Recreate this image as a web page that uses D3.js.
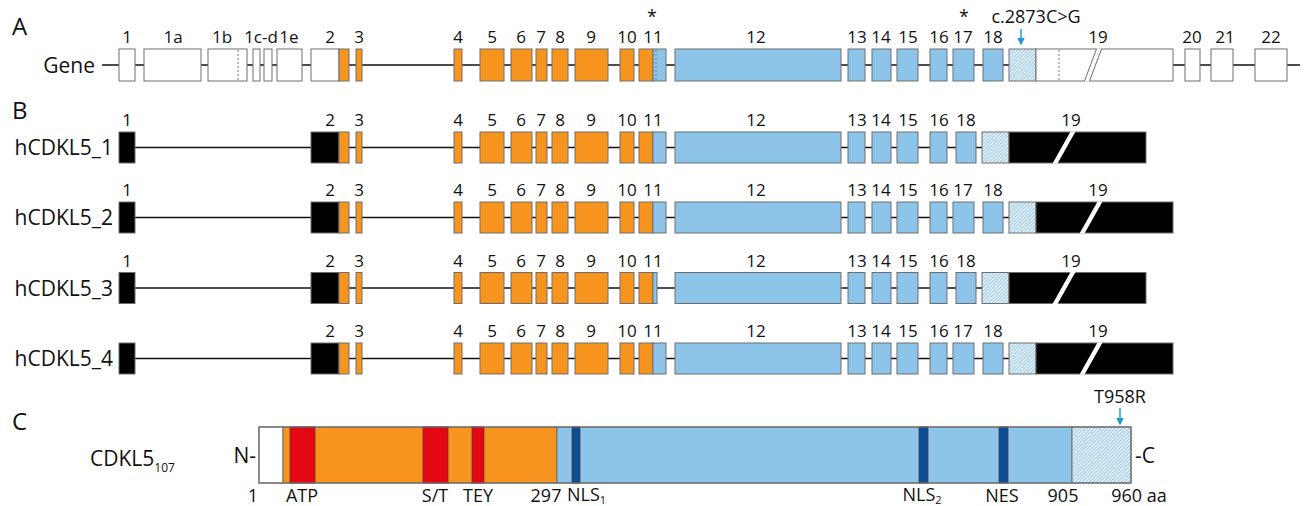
<!DOCTYPE html>
<html>
<head>
<meta charset="utf-8">
<script src="https://cdn.jsdelivr.net/npm/d3@7"></script>
<style>
body{margin:0;background:#fff}
svg{display:block;font-family:"Open Sans","Noto Sans",sans-serif}
</style>
</head>
<body>
<svg id="chart" width="1306" height="506"></svg>
<script>
// schematic exon layout (arbitrary units along the gene track)
const geneIds   = ["1","1a","1b","1c","1d","1e","2","3","4","5","6","7","8","9","10","11","12","13","14","15","16","17","18","19","20","21","22"]
const geneStart = [19,44,108,153,164,177,211,256,354,380,411,436,452,475,520,539,575,748,772,797,830,853,883,909,1085,1111,1155]
const geneEnd   = [35,101,147,160,172,202,249,262,362,404,432,447,468,508,534,566,741,765,791,818,847,874,903,1073,1100,1133,1187]
const geneDashed = [138, 556, 959]          // alternative splice sites inside exons 1b, 11, 19
const geneLabels  = ["1","1a","1b","1c-d","1e","2","3","4","5","6","7","8","9","10","11","12","13","14","15","16","17","18","19","20","21","22"]
const geneLabelAt = [27,73,122,161,189,230,259,358,392,421,441,460,491,527,553,656,757,781,808,839,863,893,998,1092,1125,1171]
const starredAt = [552, 864]
const mutation = {text:"c.2873C>G", at:921, textAt:936}

// coding regions: utr | kinase (orange) | C-term (blue) | alt C-term (hatched) | utr
const segBounds = [239, 553, 905, 936]
const segKinds  = ["utr","kinase","cterm","alt","utr"]

// transcripts
const isoNames   = ["hCDKL5_1","hCDKL5_2","hCDKL5_3","hCDKL5_4"]
const isoCore    = ["1","2","3","4","5","6","7","8","9","10","11","12","13","14","15","16","17","18","19"]
const isoMissing = [["17"],[],["17"],[]]
const iso11End   = [566,566,557,566]
const isoLabel1  = [true,true,true,false]

// protein CDKL5_107
const protName = "CDKL5", protSub = "107"
const protRegionKind  = ["nterm","kinase","cterm","alt"]
const protRegionStart = [159,183,457,972]
const protRegionEnd   = [183,457,972,1031]
const protMotifs      = ["ATP","S/T","TEY","NLS1","NLS2","NES"]
const protMotifKind   = ["red","red","red","nls","nls","nls"]
const protMotifStart  = [190,323,372,472,819,899]
const protMotifEnd    = [215,348,384,480,828,908]
const protTicks   = ["1","ATP","S/T","TEY","297","NLS|1","NLS|2","NES","905","960 aa"]
const protTickAt  = [153,202,335,378,446,467,822,902,963,1039]
const protMutation = {text:"T958R", at:1020}

const x = d3.scaleLinear().domain([0, 1200]).range([100, 1300])
const svg = d3.select("#chart")
const fills = {kinase:"#f7941d", cterm:"#8dc4ea", alt:"url(#hatch)", nterm:"#fff", red:"#e30613", nls:"#0b4f95"}
const edge = "#6e6e6e"
const arrowBlue = "#1f9ad6"

const defs = svg.append("defs")
const pat = defs.append("pattern").attr("id","hatch").attr("patternUnits","userSpaceOnUse")
    .attr("width",3.5).attr("height",3.5)
pat.append("rect").attr("width",3.5).attr("height",3.5).attr("fill","#f4f9fd")
pat.append("path").attr("d","M-1,1 l2,-2 M0,3.5 l3.5,-3.5 M2.5,4.5 l2,-2").attr("stroke","#7db9e3").attr("stroke-width",0.9)
defs.append("marker").attr("id","arr").attr("viewBox","0 0 10 10").attr("refX",8).attr("refY",5)
    .attr("markerWidth",5).attr("markerHeight",5).attr("orient","auto")
  .append("path").attr("d","M0,0 L10,5 L0,10 z").attr("fill",arrowBlue)

function pieces(s, e){
    const out = []
    for(let k=0; k<segKinds.length; k++){
        const lo = k==0 ? -Infinity : segBounds[k-1]
        const hi = k==segKinds.length-1 ? Infinity : segBounds[k]
        const ps = Math.max(s, lo), pe = Math.min(e, hi)
        if(pe > ps) out.push({s:ps, e:pe, kind:segKinds[k]})
    }
    return out
}

// exons carry gene coordinates (s, e) and a leftward shift for the compact transcript layout
function drawTrack(g, exons, cy, half, utrFill, from, to){
    g.append("line").attr("x1",x(from)).attr("x2",x(to)).attr("y1",cy).attr("y2",cy)
        .attr("stroke","#111").attr("stroke-width",1.5)
    for(const ex of exons){
        const sh = ex.shift || 0
        for(const p of pieces(ex.s, ex.e)){
            g.append("rect").attr("x",x(p.s-sh)).attr("y",cy-half)
                .attr("width",x(p.e)-x(p.s)).attr("height",half*2)
                .attr("fill", p.kind=="utr" ? utrFill : fills[p.kind])
                .attr("stroke",edge).attr("stroke-width",1)
        }
    }
}

function breakMark(g, c, cy, half, slant, w, lines){
    const b = cy+half+0.5, t = cy-half-0.5
    g.append("polygon")
        .attr("points",[[x(c)-slant/2-w/2,b],[x(c)-slant/2+w/2,b],[x(c)+slant/2+w/2,t],[x(c)+slant/2-w/2,t]].join(" "))
        .attr("fill","#fff")
    if(lines){
        for(const d of [-w/2, w/2]){
            g.append("line").attr("x1",x(c)-slant/2+d).attr("y1",b-0.5).attr("x2",x(c)+slant/2+d).attr("y2",t+0.5)
                .attr("stroke",edge).attr("stroke-width",1)
        }
    }
}

function label(g, txt, px, y, size, anchor){
    return g.append("text").attr("x",px).attr("y",y).attr("font-size",size)
        .attr("text-anchor",anchor||"middle").attr("fill","#111").text(txt)
}

// panel letters
label(svg,"A",12,35,24,"start")
label(svg,"B",12,119,24,"start")
label(svg,"C",12,430,24,"start")

// ---- A: gene
const gA = svg.append("g")
const gy = 65, gh = 16
const geneExons = geneIds.map((id,i)=>({id, s:geneStart[i], e:geneEnd[i]}))
drawTrack(gA, geneExons, gy, gh, "#fff", 2, 1200)
for(const d of geneDashed){
    gA.append("line").attr("x1",x(d)).attr("x2",x(d)).attr("y1",gy-gh+1).attr("y2",gy+gh-1)
        .attr("stroke","#777").attr("stroke-dasharray","2,2").attr("stroke-width",1)
}
breakMark(gA, 993, gy, gh, 12, 5, true)
geneLabels.forEach((t,i)=>label(gA,t,x(geneLabelAt[i]),gy-gh-6,17))
starredAt.forEach(s=>label(gA,"*",x(s),23,18))
label(gA,"Gene",95,gy+7.5,21,"end")
label(gA,mutation.text,x(mutation.textAt),23,18)
gA.append("line").attr("x1",x(mutation.at)).attr("x2",x(mutation.at)).attr("y1",29).attr("y2",44)
    .attr("stroke",arrowBlue).attr("stroke-width",1.5).attr("marker-end","url(#arr)")

// ---- B: transcripts
const isoY = [147.5, 217.5, 288, 358.5], ih = 15.5
const startOf = id => geneStart[geneIds.indexOf(id)]
const endOf = id => geneEnd[geneIds.indexOf(id)]
isoNames.forEach((name,r)=>{
    const g = svg.append("g")
    const cy = isoY[r]
    const exons = []
    let shift = 0
    isoCore.forEach((id,i)=>{
        if(isoMissing[r].includes(id)){
            shift += endOf(id) - endOf(isoCore[i-1])
            return
        }
        const e = id=="11" ? iso11End[r] : endOf(id)
        exons.push({id, s:startOf(id), e, shift})
    })
    const last = exons[exons.length-1]
    drawTrack(g, exons, cy, ih, "#000", exons[0].s, last.s-last.shift)
    breakMark(g, 991-last.shift, cy, ih, 18, 5, false)
    for(const ex of exons){
        if(ex.id=="1" && !isoLabel1[r]) continue
        label(g, ex.id, x(geneLabelAt[geneLabels.indexOf(ex.id)]-ex.shift), cy-ih-6, 17)
    }
    label(g, name, 113, cy+7.5, 21, "end")
})

// ---- C: protein
const gC = svg.append("g")
const py0 = 427, py1 = 483
protRegionKind.forEach((k,i)=>{
    gC.append("rect").attr("x",x(protRegionStart[i])).attr("y",py0)
        .attr("width",x(protRegionEnd[i])-x(protRegionStart[i])).attr("height",py1-py0)
        .attr("fill",fills[k]).attr("stroke",edge).attr("stroke-width",1)
})
protMotifs.forEach((m,i)=>{
    gC.append("rect").attr("x",x(protMotifStart[i])).attr("y",py0)
        .attr("width",x(protMotifEnd[i])-x(protMotifStart[i])).attr("height",py1-py0)
        .attr("fill",fills[protMotifKind[i]]).attr("stroke","#5a3a3a").attr("stroke-width",0.8)
})
gC.append("rect").attr("x",x(protRegionStart[0])).attr("y",py0)
    .attr("width",x(protRegionEnd[protRegionEnd.length-1])-x(protRegionStart[0])).attr("height",py1-py0)
    .attr("fill","none").attr("stroke",edge).attr("stroke-width",1.2)
protTicks.forEach((t,i)=>{
    if(t.includes("|")){
        const [main, sub] = t.split("|")
        const tx = label(gC, main, x(protTickAt[i]), 501, 18, t=="NLS|1" ? "start" : "middle")
        tx.append("tspan").attr("font-size",11).attr("dy",3).text(sub)
    } else {
        label(gC, t, x(protTickAt[i]), 502, 18)
    }
})
label(gC,"N-",x(protRegionStart[0])-3,463,21,"end")
label(gC,"-C",x(protRegionEnd[protRegionEnd.length-1])+4,463,21,"start")
const nm = label(gC,protName,90,466,21,"start")
nm.append("tspan").attr("font-size",12).attr("dy",6).text(protSub)
label(gC,protMutation.text,x(protMutation.at),403,18)
gC.append("line").attr("x1",x(protMutation.at)).attr("x2",x(protMutation.at)).attr("y1",408).attr("y2",424)
    .attr("stroke",arrowBlue).attr("stroke-width",1.5).attr("marker-end","url(#arr)")
</script>
</body>
</html>
